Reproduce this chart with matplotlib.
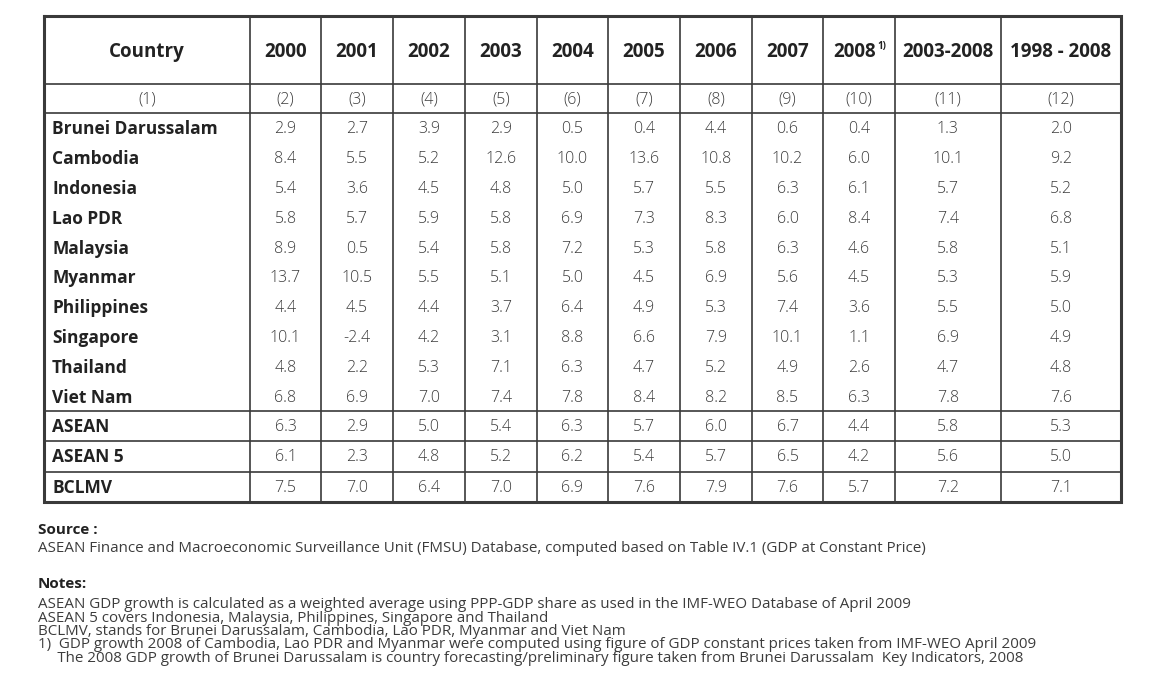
# ASEAN real GDP growth table, redrawn with matplotlib
import matplotlib.pyplot as plt

# table data
columns = ['2000', '2001', '2002', '2003', '2004', '2005', '2006', '2007', '2008', '2003-2008', '1998 - 2008']
col_index = ['(1)', '(2)', '(3)', '(4)', '(5)', '(6)', '(7)', '(8)', '(9)', '(10)', '(11)', '(12)']
countries = ['Brunei Darussalam', 'Cambodia', 'Indonesia', 'Lao PDR', 'Malaysia', 'Myanmar',
             'Philippines', 'Singapore', 'Thailand', 'Viet Nam']
groups = ['ASEAN', 'ASEAN 5', 'BCLMV']

country_vals = [
    [2.9, 2.7, 3.9, 2.9, 0.5, 0.4, 4.4, 0.6, 0.4, 1.3, 2.0],
    [8.4, 5.5, 5.2, 12.6, 10.0, 13.6, 10.8, 10.2, 6.0, 10.1, 9.2],
    [5.4, 3.6, 4.5, 4.8, 5.0, 5.7, 5.5, 6.3, 6.1, 5.7, 5.2],
    [5.8, 5.7, 5.9, 5.8, 6.9, 7.3, 8.3, 6.0, 8.4, 7.4, 6.8],
    [8.9, 0.5, 5.4, 5.8, 7.2, 5.3, 5.8, 6.3, 4.6, 5.8, 5.1],
    [13.7, 10.5, 5.5, 5.1, 5.0, 4.5, 6.9, 5.6, 4.5, 5.3, 5.9],
    [4.4, 4.5, 4.4, 3.7, 6.4, 4.9, 5.3, 7.4, 3.6, 5.5, 5.0],
    [10.1, -2.4, 4.2, 3.1, 8.8, 6.6, 7.9, 10.1, 1.1, 6.9, 4.9],
    [4.8, 2.2, 5.3, 7.1, 6.3, 4.7, 5.2, 4.9, 2.6, 4.7, 4.8],
    [6.8, 6.9, 7.0, 7.4, 7.8, 8.4, 8.2, 8.5, 6.3, 7.8, 7.6],
]
group_vals = [
    [6.3, 2.9, 5.0, 5.4, 6.3, 5.7, 6.0, 6.7, 4.4, 5.8, 5.3],
    [6.1, 2.3, 4.8, 5.2, 6.2, 5.4, 5.7, 6.5, 4.2, 5.6, 5.0],
    [7.5, 7.0, 6.4, 7.0, 6.9, 7.6, 7.9, 7.6, 5.7, 7.2, 7.1],
]

source_text = 'ASEAN Finance and Macroeconomic Surveillance Unit (FMSU) Database, computed based on Table IV.1 (GDP at Constant Price)'
notes_text = [
    'ASEAN GDP growth is calculated as a weighted average using PPP-GDP share as used in the IMF-WEO Database of April 2009',
    'ASEAN 5 covers Indonesia, Malaysia, Philippines, Singapore and Thailand',
    'BCLMV, stands for Brunei Darussalam, Cambodia, Lao PDR, Myanmar and Viet Nam',
    '1)  GDP growth 2008 of Cambodia, Lao PDR and Myanmar were computed using figure of GDP constant prices taken from IMF-WEO April 2009',
    '     The 2008 GDP growth of Brunei Darussalam is country forecasting/preliminary figure taken from Brunei Darussalam  Key Indicators, 2008',
]

# layout (pixels)
col_edges = [44, 250, 321, 393, 465, 537, 608, 680, 752, 823, 895, 1001, 1121]
y_top, y_head, y_idx = 16, 84, 113
row_h = 29.8
y_group = 411
grp_h = 30.3
y_bottom = y_group + grp_h * len(groups)

line_c = '#3a3a3a'
num_c = '#3c3c3c'
txt_c = '#222222'
font = 'Open Sans'

fig = plt.figure(figsize=(11.67, 6.97), dpi=100)
ax = fig.add_axes([0, 0, 1, 1])
ax.set_xlim(0, 1167)
ax.set_ylim(697, 0)
ax.axis('off')

# grid lines
for x in col_edges[1:-1]:
    ax.plot([x, x], [y_top, y_bottom], color=line_c, lw=1.2)
for y in [y_head, y_idx, y_group, y_group + grp_h, y_group + 2 * grp_h]:
    ax.plot([col_edges[0], col_edges[-1]], [y, y], color=line_c, lw=1.2)
ax.plot([col_edges[0], col_edges[-1], col_edges[-1], col_edges[0], col_edges[0]],
        [y_top, y_top, y_bottom, y_bottom, y_top], color=line_c, lw=2.2, solid_joinstyle='miter')

centers = [(col_edges[i] + col_edges[i + 1]) / 2 for i in range(len(col_edges) - 1)]

# header
yh = (y_top + y_head) / 2 + 2
ax.text(centers[0], yh, 'Country', ha='center', va='center',
        fontsize=13.5, fontweight='bold', color=txt_c, family=font)
for cx, lab in zip(centers[1:], columns):
    if lab == '2008':
        ax.text(cx - 4, yh, lab, ha='center', va='center',
                fontsize=13.5, fontweight='bold', color=txt_c, family=font)
        ax.text(cx + 18, yh - 5, '1)', ha='left', va='center',
                fontsize=7, fontweight='bold', color=txt_c, family=font)
    else:
        ax.text(cx, yh, lab, ha='center', va='center',
                fontsize=13.5, fontweight='bold', color=txt_c, family=font)
for cx, lab in zip(centers, col_index):
    ax.text(cx, (y_head + y_idx) / 2 + 1, lab, ha='center', va='center',
            fontsize=11.5, fontweight='light', color=num_c, family=font)

# body rows
def draw_row(yc, name, vals):
    ax.text(col_edges[0] + 8, yc, name, ha='left', va='center',
            fontsize=12.5, fontweight='bold', color=txt_c, family=font)
    for cx, v in zip(centers[1:], vals):
        ax.text(cx, yc, f'{v:.1f}', ha='center', va='center',
                fontsize=11.5, fontweight='light', color=num_c, family=font)

for i, (name, vals) in enumerate(zip(countries, country_vals)):
    draw_row(y_idx + row_h * (i + 0.5) + 1.5, name, vals)
for i, (name, vals) in enumerate(zip(groups, group_vals)):
    draw_row(y_group + grp_h * (i + 0.5) + 1, name, vals)

# source and notes
ax.text(38, 530, 'Source :', ha='left', va='center', fontsize=11, fontweight='bold',
        color=txt_c, family=font)
ax.text(38, 548, source_text, ha='left', va='center', fontsize=10.9, color=num_c, family=font)
ax.text(38, 584, 'Notes:', ha='left', va='center', fontsize=11, fontweight='bold',
        color=txt_c, family=font)
for i, line in enumerate(notes_text):
    ax.text(38, 605 + 13.3 * i, line, ha='left', va='center', fontsize=10.9,
            color=num_c, family=font)

plt.savefig('out.png', dpi=100)
